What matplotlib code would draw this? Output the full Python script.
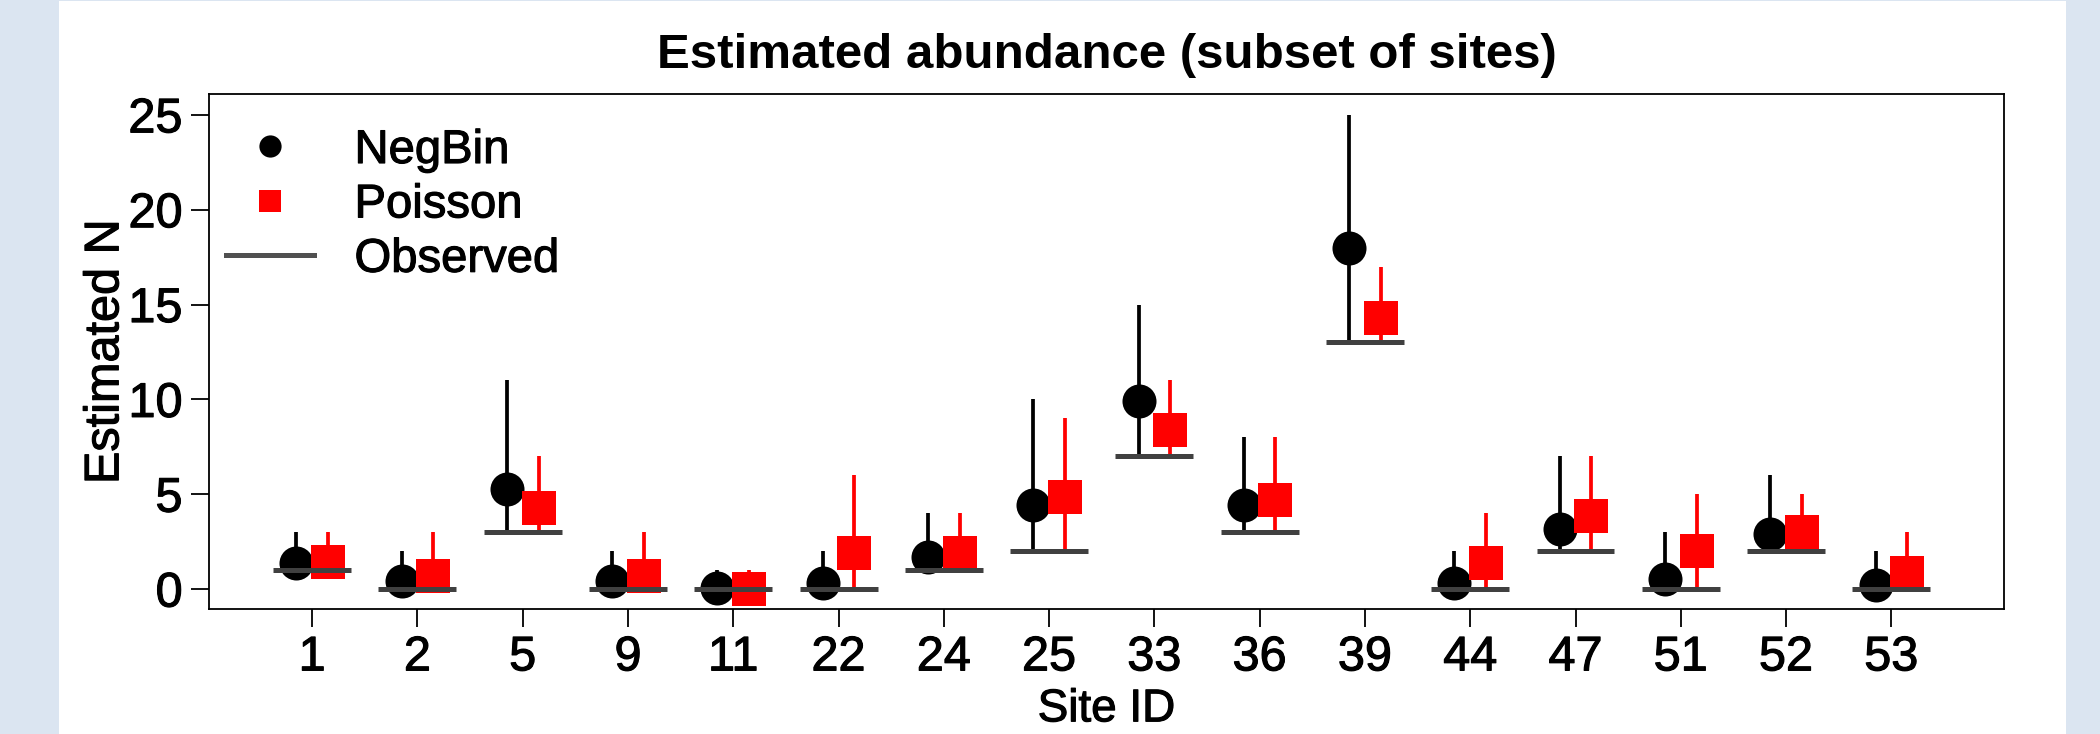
import numpy as np
import matplotlib.pyplot as plt
import matplotlib.patheffects as pe
from matplotlib.lines import Line2D
from matplotlib.patches import Rectangle

# site labels and estimates
sites = ['1', '2', '5', '9', '11', '22', '24', '25', '33', '36', '39', '44', '47', '51', '52', '53']
observed = [1, 0, 3, 0, 0, 0, 1, 2, 7, 3, 13, 0, 2, 0, 2, 0]

negbin_est = [1.4, 0.4, 5.3, 0.4, 0.05, 0.3, 1.7, 4.45, 9.9, 4.45, 18.0, 0.3, 3.15, 0.55, 2.9, 0.2]
negbin_lo = [1, 0, 3, 0, 0, 0, 1, 2, 7, 3, 13, 0, 2, 0, 2, 0]
negbin_hi = [3, 2, 11, 2, 1, 2, 4, 10, 15, 8, 25, 2, 7, 3, 6, 2]

pois_est = [1.45, 0.7, 4.3, 0.7, 0.0, 1.9, 1.9, 4.85, 8.4, 4.7, 14.3, 1.4, 3.85, 2.0, 3.0, 0.85]
pois_lo = [1, 0, 3, 0, 0, 0, 1, 2, 7, 3, 13, 0, 2, 0, 2, 0]
pois_hi = [3, 3, 7, 3, 1, 6, 4, 9, 11, 8, 17, 4, 7, 5, 5, 3]

plt.rcParams['font.family'] = ['Liberation Sans', 'DejaVu Sans']

# slightly heavier text, like the original raster
heavy = [pe.withStroke(linewidth=0.8, foreground='black')]

fig = plt.figure(figsize=(21, 7.34), dpi=100)
fig.patch.set_facecolor('#dbe5f1')
# white panel behind the plot
panel = Rectangle((59 / 2100, 0), (2066 - 59) / 2100, 733 / 734,
                  transform=fig.transFigure, facecolor='white',
                  edgecolor='none', zorder=-10)
fig.patches.append(panel)

ax = fig.add_axes([209 / 2100, 1 - 609 / 734, (2004 - 209) / 2100, (609 - 94) / 734])
ax.set_zorder(5)
ax.set_facecolor('white')

x = np.arange(1, len(sites) + 1)
off = 0.15

# credible intervals
ax.vlines(x - off, negbin_lo, negbin_hi, color='black', lw=2.7, zorder=2)
ax.vlines(x + off, pois_lo, pois_hi, color='red', lw=2.7, zorder=2)

# point estimates
ax.plot(x - off, negbin_est, 'o', color='black', ms=24.5, mew=0, zorder=3)
ax.plot(x + off, pois_est, 's', color='red', ms=24, mew=0, zorder=3)

# observed counts
ax.hlines(observed, x - 0.37, x + 0.37, color='#404040', lw=3.6, zorder=4)

ax.set_xlim(0.02, 17.07)
ax.set_ylim(-1.05, 26.1)
ax.set_xticks(x)
ax.set_xticklabels(sites)
ax.set_yticks([0, 5, 10, 15, 20, 25])
ax.tick_params(labelsize=35, length=13, width=1.3, pad=6)
for s in ax.spines.values():
    s.set_linewidth(1.3)
for lab in ax.get_xticklabels() + ax.get_yticklabels():
    lab.set_path_effects(heavy)

ax.set_xlabel('Site ID', fontsize=33, labelpad=5, path_effects=heavy)
ax.set_ylabel('Estimated N', fontsize=35, labelpad=0, path_effects=heavy)
ax.set_title('Estimated abundance (subset of sites)', fontsize=35.5,
             fontweight='bold', pad=19)

handles = [
    Line2D([], [], marker='o', color='black', ls='none', ms=16, mew=0),
    Line2D([], [], marker='s', color='red', ls='none', ms=16, mew=0),
    Line2D([], [], color='#505050', lw=3.6),
]
leg = ax.legend(handles, ['NegBin', 'Poisson', 'Observed'], loc='upper left',
                bbox_to_anchor=(0.0095, 0.932), frameon=False, fontsize=34,
                borderaxespad=0, borderpad=0,
                handlelength=1.86, handletextpad=0.86, labelspacing=0.22)
for t in leg.get_texts():
    t.set_path_effects(heavy)

fig.savefig('out.png', dpi=100, facecolor=fig.get_facecolor())
